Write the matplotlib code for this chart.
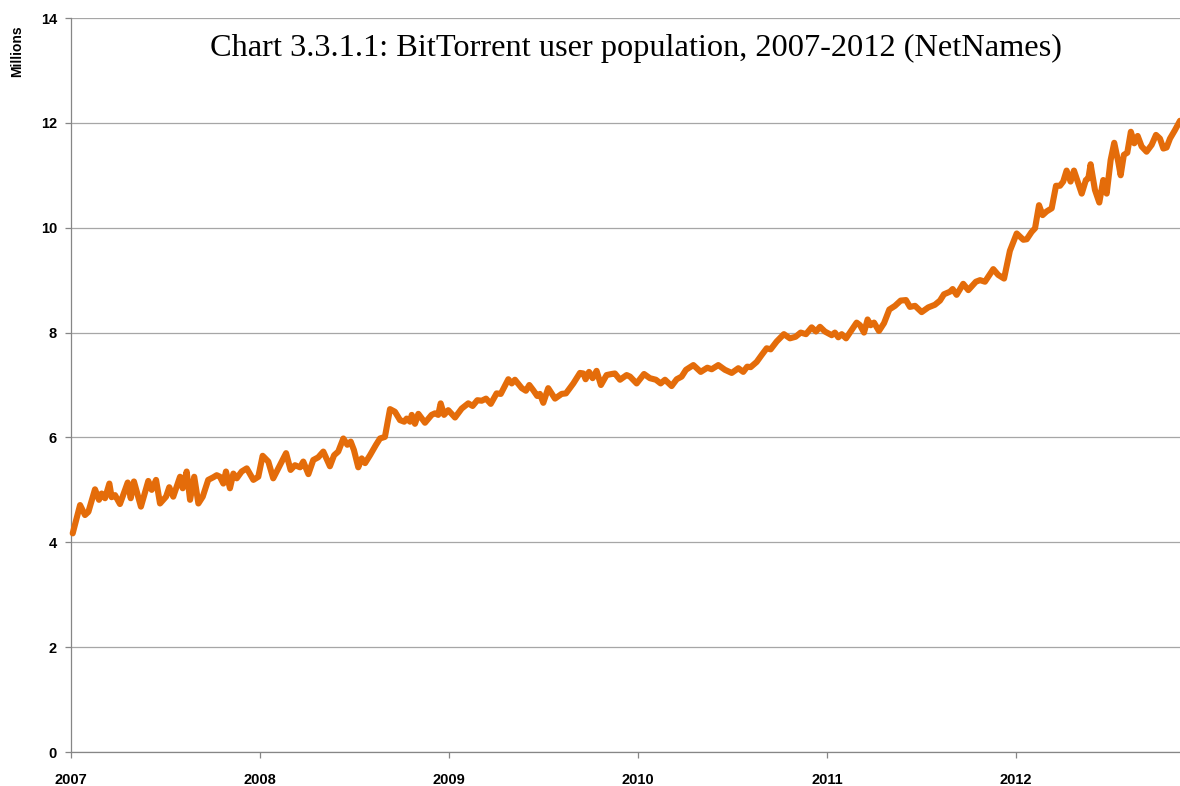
import numpy as np
import matplotlib
matplotlib.use("Agg")
import matplotlib.pyplot as plt

# weekly-ish readings, decimal year -> millions of users
years = [
    2007.009, 2007.048, 2007.074, 2007.092, 2007.127, 2007.148, 2007.162, 2007.180, 2007.203, 2007.215,
    2007.233, 2007.259, 2007.300, 2007.316, 2007.333, 2007.370, 2007.409, 2007.427, 2007.450, 2007.471,
    2007.503, 2007.520, 2007.541, 2007.577, 2007.591, 2007.612, 2007.630, 2007.652, 2007.674, 2007.697,
    2007.726, 2007.753, 2007.771, 2007.788, 2007.806, 2007.820, 2007.841, 2007.859, 2007.877, 2007.903,
    2007.930, 2007.965, 2007.991, 2008.014, 2008.044, 2008.070, 2008.138, 2008.162, 2008.185, 2008.212,
    2008.229, 2008.256, 2008.282, 2008.308, 2008.335, 2008.370, 2008.392, 2008.414, 2008.441, 2008.462,
    2008.480, 2008.497, 2008.520, 2008.538, 2008.556, 2008.582, 2008.614, 2008.635, 2008.661, 2008.688,
    2008.714, 2008.741, 2008.763, 2008.776, 2008.794, 2008.803, 2008.820, 2008.838, 2008.873, 2008.908,
    2008.926, 2008.943, 2008.956, 2008.974, 2008.996, 2009.032, 2009.067, 2009.102, 2009.125, 2009.150,
    2009.173, 2009.196, 2009.221, 2009.252, 2009.274, 2009.314, 2009.332, 2009.349, 2009.385, 2009.407,
    2009.425, 2009.446, 2009.467, 2009.481, 2009.499, 2009.525, 2009.561, 2009.596, 2009.619, 2009.658,
    2009.693, 2009.711, 2009.723, 2009.741, 2009.760, 2009.781, 2009.804, 2009.834, 2009.861, 2009.878,
    2009.905, 2009.940, 2009.958, 2009.993, 2010.032, 2010.063, 2010.095, 2010.120, 2010.143, 2010.178,
    2010.205, 2010.231, 2010.254, 2010.293, 2010.332, 2010.367, 2010.390, 2010.425, 2010.460, 2010.496,
    2010.531, 2010.557, 2010.578, 2010.596, 2010.628, 2010.654, 2010.681, 2010.702, 2010.734, 2010.772,
    2010.804, 2010.834, 2010.861, 2010.889, 2010.919, 2010.942, 2010.963, 2010.989, 2011.025, 2011.042,
    2011.060, 2011.078, 2011.101, 2011.131, 2011.157, 2011.175, 2011.196, 2011.215, 2011.231, 2011.249,
    2011.275, 2011.302, 2011.330, 2011.360, 2011.390, 2011.418, 2011.439, 2011.466, 2011.501, 2011.536,
    2011.571, 2011.598, 2011.619, 2011.651, 2011.665, 2011.686, 2011.721, 2011.748, 2011.788, 2011.810,
    2011.836, 2011.880, 2011.906, 2011.937, 2011.968, 2012.004, 2012.039, 2012.057, 2012.083, 2012.101,
    2012.122, 2012.141, 2012.162, 2012.189, 2012.212, 2012.233, 2012.250, 2012.268, 2012.289, 2012.307,
    2012.324, 2012.348, 2012.370, 2012.383, 2012.395, 2012.418, 2012.441, 2012.462, 2012.480, 2012.501,
    2012.520, 2012.541, 2012.554, 2012.571, 2012.589, 2012.608, 2012.626, 2012.644, 2012.665, 2012.691,
    2012.718, 2012.741, 2012.762, 2012.780, 2012.797, 2012.815, 2012.841, 2012.868,
]
users = [
    4.17, 4.71, 4.52, 4.58, 5.01, 4.81, 4.93, 4.84, 5.12, 4.86,
    4.90, 4.73, 5.14, 4.84, 5.16, 4.68, 5.17, 5.00, 5.19, 4.74,
    4.87, 5.05, 4.87, 5.25, 5.03, 5.35, 4.81, 5.25, 4.74, 4.87,
    5.19, 5.24, 5.28, 5.25, 5.12, 5.35, 5.03, 5.31, 5.22, 5.35,
    5.41, 5.19, 5.25, 5.65, 5.54, 5.22, 5.70, 5.38, 5.47, 5.43,
    5.54, 5.30, 5.57, 5.62, 5.73, 5.45, 5.66, 5.73, 5.98, 5.86,
    5.92, 5.76, 5.43, 5.60, 5.51, 5.66, 5.86, 5.98, 6.01, 6.54,
    6.49, 6.33, 6.30, 6.36, 6.30, 6.43, 6.26, 6.45, 6.28, 6.43,
    6.46, 6.43, 6.65, 6.43, 6.52, 6.38, 6.55, 6.65, 6.60, 6.71,
    6.70, 6.74, 6.64, 6.84, 6.83, 7.11, 7.03, 7.10, 6.94, 6.89,
    7.00, 6.90, 6.79, 6.83, 6.66, 6.94, 6.74, 6.83, 6.84, 7.03,
    7.23, 7.22, 7.11, 7.25, 7.13, 7.27, 7.00, 7.19, 7.21, 7.22,
    7.10, 7.19, 7.16, 7.03, 7.21, 7.13, 7.10, 7.03, 7.10, 6.98,
    7.11, 7.16, 7.29, 7.38, 7.25, 7.33, 7.30, 7.38, 7.29, 7.23,
    7.32, 7.25, 7.35, 7.34, 7.44, 7.57, 7.70, 7.68, 7.83, 7.97,
    7.89, 7.92, 8.00, 7.97, 8.10, 8.02, 8.11, 8.02, 7.95, 8.00,
    7.91, 7.97, 7.89, 8.05, 8.19, 8.14, 8.00, 8.25, 8.14, 8.19,
    8.03, 8.18, 8.44, 8.51, 8.61, 8.62, 8.49, 8.51, 8.39, 8.48,
    8.53, 8.61, 8.73, 8.78, 8.83, 8.72, 8.93, 8.81, 8.97, 9.00,
    8.97, 9.21, 9.10, 9.03, 9.56, 9.89, 9.77, 9.78, 9.92, 9.99,
    10.43, 10.24, 10.31, 10.37, 10.80, 10.80, 10.88, 11.09, 10.88, 11.09,
    10.91, 10.65, 10.91, 10.94, 11.21, 10.72, 10.48, 10.91, 10.65, 11.29,
    11.62, 11.26, 11.00, 11.39, 11.43, 11.83, 11.61, 11.75, 11.55, 11.45,
    11.58, 11.77, 11.70, 11.51, 11.53, 11.70, 11.86, 12.04,
]
year_ticks = [2007, 2008, 2009, 2010, 2011, 2012]
y_ticks = [0, 2, 4, 6, 8, 10, 12, 14]

title = "Chart 3.3.1.1: BitTorrent user population, 2007-2012 (NetNames)"
line_color = "#E46C0A"
grid_color = "#A6A6A6"

fig = plt.figure(figsize=(11.8, 7.86), dpi=100)
ax = fig.add_axes([71 / 1180, 34 / 786, 1 - 71 / 1180, (752 - 18) / 786])

ax.plot(years, users, color=line_color, lw=4.4, solid_joinstyle="round",
        solid_capstyle="round", zorder=3, clip_on=False)

ax.set_xlim(2007, 2012.868)
ax.set_ylim(0, 14)
ax.set_yticks(y_ticks)
ax.set_xticks(year_ticks)
ax.set_xticklabels([str(y) for y in year_ticks])
ax.grid(axis="y", color=grid_color, lw=0.9)
ax.set_axisbelow(True)

for s in ["top", "right"]:
    ax.spines[s].set_visible(False)
for s in ["left", "bottom"]:
    ax.spines[s].set_color("#868686")
    ax.spines[s].set_linewidth(0.9)

ax.tick_params(axis="both", direction="out", length=4, width=0.9, color="#868686",
               labelsize=10.5, pad=6)
ax.tick_params(axis="x", pad=11)
for lab in ax.get_xticklabels() + ax.get_yticklabels():
    lab.set_fontweight("bold")
    lab.set_family("Liberation Sans")

fig.text(17 / 1180, 1 - 51 / 786, "Millions", rotation=90, ha="center", va="center",
         fontsize=10, fontweight="bold", family="Liberation Sans")
fig.text(636 / 1180, 1 - 48 / 786, title, ha="center", va="center",
         fontsize=23.3, family="Liberation Serif")

fig.savefig("out.png", dpi=100)
